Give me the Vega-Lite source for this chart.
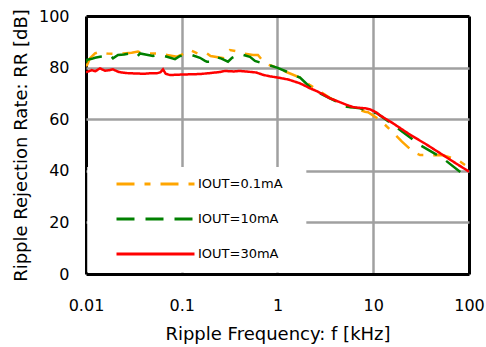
{
  "$schema": "https://vega.github.io/schema/vega-lite/v6.json",
  "width": 383,
  "height": 258,
  "autosize": "none",
  "padding": {"left": 86, "top": 16, "right": 17, "bottom": 73},
  "background": "white",
  "config": {
    "view": {"stroke": null},
    "font": "DejaVu Sans",
    "axis": {
      "domain": false,
      "ticks": false,
      "labelFont": "DejaVu Sans",
      "labelFontSize": 16,
      "labelColor": "black",
      "titleFont": "DejaVu Sans",
      "titleFontSize": 18,
      "titleFontWeight": "normal",
      "titleColor": "black",
      "labelOverlap": false,
      "grid": true
    },
    "legend": {
      "orient": "none",
      "legendX": 29,
      "legendY": 160,
      "symbolType": "stroke",
      "symbolSize": 6084,
      "symbolStrokeWidth": 3,
      "clipHeight": 16,
      "labelFont": "DejaVu Sans",
      "labelFontSize": 13,
      "labelColor": "black",
      "labelOffset": 2,
      "rowPadding": 19,
      "padding": 0
    }
  },
  "datasets": {
    "curves": [
      {"f": 0.01, "rr": 80.5, "s": "IOUT=0.1mA"},
      {"f": 0.01024, "rr": 81.0, "s": "IOUT=0.1mA"},
      {"f": 0.01101, "rr": 83.6, "s": "IOUT=0.1mA"},
      {"f": 0.01242, "rr": 85.5, "s": "IOUT=0.1mA"},
      {"f": 0.014, "rr": 86.2, "s": "IOUT=0.1mA"},
      {"f": 0.01657, "rr": 85.5, "s": "IOUT=0.1mA"},
      {"f": 0.02, "rr": 85.3, "s": "IOUT=0.1mA"},
      {"f": 0.02435, "rr": 85.5, "s": "IOUT=0.1mA"},
      {"f": 0.03, "rr": 85.8, "s": "IOUT=0.1mA"},
      {"f": 0.0349, "rr": 86.2, "s": "IOUT=0.1mA"},
      {"f": 0.03937, "rr": 85.5, "s": "IOUT=0.1mA"},
      {"f": 0.05513, "rr": 85.5, "s": "IOUT=0.1mA"},
      {"f": 0.07015, "rr": 84.9, "s": "IOUT=0.1mA"},
      {"f": 0.0891, "rr": 84.2, "s": "IOUT=0.1mA"},
      {"f": 0.1, "rr": 85.0, "s": "IOUT=0.1mA"},
      {"f": 0.122, "rr": 86.8, "s": "IOUT=0.1mA"},
      {"f": 0.155, "rr": 85.1, "s": "IOUT=0.1mA"},
      {"f": 0.1835, "rr": 85.5, "s": "IOUT=0.1mA"},
      {"f": 0.2, "rr": 84.5, "s": "IOUT=0.1mA"},
      {"f": 0.283, "rr": 83.6, "s": "IOUT=0.1mA"},
      {"f": 0.319, "rr": 86.8, "s": "IOUT=0.1mA"},
      {"f": 0.386, "rr": 86.2, "s": "IOUT=0.1mA"},
      {"f": 0.436, "rr": 85.5, "s": "IOUT=0.1mA"},
      {"f": 0.555, "rr": 84.9, "s": "IOUT=0.1mA"},
      {"f": 0.625, "rr": 84.9, "s": "IOUT=0.1mA"},
      {"f": 0.706, "rr": 82.5, "s": "IOUT=0.1mA"},
      {"f": 0.777, "rr": 81.3, "s": "IOUT=0.1mA"},
      {"f": 0.988, "rr": 80.0, "s": "IOUT=0.1mA"},
      {"f": 1.256, "rr": 78.2, "s": "IOUT=0.1mA"},
      {"f": 1.72, "rr": 76.1, "s": "IOUT=0.1mA"},
      {"f": 2.18, "rr": 73.2, "s": "IOUT=0.1mA"},
      {"f": 3.53, "rr": 68.3, "s": "IOUT=0.1mA"},
      {"f": 5.32, "rr": 65.0, "s": "IOUT=0.1mA"},
      {"f": 6.76, "rr": 64.0, "s": "IOUT=0.1mA"},
      {"f": 8.2, "rr": 62.9, "s": "IOUT=0.1mA"},
      {"f": 8.81, "rr": 62.7, "s": "IOUT=0.1mA"},
      {"f": 11.75, "rr": 59.7, "s": "IOUT=0.1mA"},
      {"f": 15.7, "rr": 55.2, "s": "IOUT=0.1mA"},
      {"f": 19.95, "rr": 51.3, "s": "IOUT=0.1mA"},
      {"f": 26.0, "rr": 47.4, "s": "IOUT=0.1mA"},
      {"f": 30.8, "rr": 46.1, "s": "IOUT=0.1mA"},
      {"f": 39.2, "rr": 46.1, "s": "IOUT=0.1mA"},
      {"f": 53.5, "rr": 46.0, "s": "IOUT=0.1mA"},
      {"f": 75.0, "rr": 44.4, "s": "IOUT=0.1mA"},
      {"f": 100, "rr": 41.2, "s": "IOUT=0.1mA"},

      {"f": 0.01, "rr": 82.0, "s": "IOUT=10mA"},
      {"f": 0.01024, "rr": 83.0, "s": "IOUT=10mA"},
      {"f": 0.0115, "rr": 83.4, "s": "IOUT=10mA"},
      {"f": 0.01242, "rr": 83.8, "s": "IOUT=10mA"},
      {"f": 0.014, "rr": 84.2, "s": "IOUT=10mA"},
      {"f": 0.0165, "rr": 84.5, "s": "IOUT=10mA"},
      {"f": 0.01781, "rr": 84.9, "s": "IOUT=10mA"},
      {"f": 0.01914, "rr": 83.6, "s": "IOUT=10mA"},
      {"f": 0.02159, "rr": 84.9, "s": "IOUT=10mA"},
      {"f": 0.025, "rr": 85.1, "s": "IOUT=10mA"},
      {"f": 0.0288, "rr": 85.5, "s": "IOUT=10mA"},
      {"f": 0.03408, "rr": 84.2, "s": "IOUT=10mA"},
      {"f": 0.03664, "rr": 85.5, "s": "IOUT=10mA"},
      {"f": 0.043, "rr": 85.0, "s": "IOUT=10mA"},
      {"f": 0.05009, "rr": 84.5, "s": "IOUT=10mA"},
      {"f": 0.05649, "rr": 85.1, "s": "IOUT=10mA"},
      {"f": 0.07015, "rr": 84.2, "s": "IOUT=10mA"},
      {"f": 0.08504, "rr": 83.3, "s": "IOUT=10mA"},
      {"f": 0.0959, "rr": 84.5, "s": "IOUT=10mA"},
      {"f": 0.11, "rr": 84.8, "s": "IOUT=10mA"},
      {"f": 0.122, "rr": 85.1, "s": "IOUT=10mA"},
      {"f": 0.155, "rr": 83.8, "s": "IOUT=10mA"},
      {"f": 0.175, "rr": 82.6, "s": "IOUT=10mA"},
      {"f": 0.1835, "rr": 82.3, "s": "IOUT=10mA"},
      {"f": 0.197, "rr": 82.3, "s": "IOUT=10mA"},
      {"f": 0.2225, "rr": 84.2, "s": "IOUT=10mA"},
      {"f": 0.26, "rr": 83.5, "s": "IOUT=10mA"},
      {"f": 0.304, "rr": 82.3, "s": "IOUT=10mA"},
      {"f": 0.335, "rr": 83.8, "s": "IOUT=10mA"},
      {"f": 0.406, "rr": 85.3, "s": "IOUT=10mA"},
      {"f": 0.516, "rr": 84.2, "s": "IOUT=10mA"},
      {"f": 0.582, "rr": 82.6, "s": "IOUT=10mA"},
      {"f": 0.706, "rr": 81.6, "s": "IOUT=10mA"},
      {"f": 0.988, "rr": 80.0, "s": "IOUT=10mA"},
      {"f": 1.256, "rr": 78.4, "s": "IOUT=10mA"},
      {"f": 1.72, "rr": 76.1, "s": "IOUT=10mA"},
      {"f": 2.35, "rr": 71.3, "s": "IOUT=10mA"},
      {"f": 3.53, "rr": 68.1, "s": "IOUT=10mA"},
      {"f": 5.32, "rr": 64.8, "s": "IOUT=10mA"},
      {"f": 7.27, "rr": 64.2, "s": "IOUT=10mA"},
      {"f": 9.25, "rr": 62.9, "s": "IOUT=10mA"},
      {"f": 10.9, "rr": 62.3, "s": "IOUT=10mA"},
      {"f": 16.1, "rr": 57.8, "s": "IOUT=10mA"},
      {"f": 30.8, "rr": 50.0, "s": "IOUT=10mA"},
      {"f": 53.5, "rr": 44.8, "s": "IOUT=10mA"},
      {"f": 95.3, "rr": 37.5, "s": "IOUT=10mA"},
      {"f": 100, "rr": 37.2, "s": "IOUT=10mA"},

      {"f": 0.01, "rr": 78.2, "s": "IOUT=30mA"},
      {"f": 0.0115, "rr": 79.0, "s": "IOUT=30mA"},
      {"f": 0.0125, "rr": 78.6, "s": "IOUT=30mA"},
      {"f": 0.014, "rr": 79.7, "s": "IOUT=30mA"},
      {"f": 0.0158, "rr": 78.8, "s": "IOUT=30mA"},
      {"f": 0.0175, "rr": 79.0, "s": "IOUT=30mA"},
      {"f": 0.0191, "rr": 79.3, "s": "IOUT=30mA"},
      {"f": 0.022, "rr": 78.3, "s": "IOUT=30mA"},
      {"f": 0.026, "rr": 77.9, "s": "IOUT=30mA"},
      {"f": 0.0288, "rr": 77.8, "s": "IOUT=30mA"},
      {"f": 0.035, "rr": 77.7, "s": "IOUT=30mA"},
      {"f": 0.04, "rr": 77.6, "s": "IOUT=30mA"},
      {"f": 0.0466, "rr": 77.8, "s": "IOUT=30mA"},
      {"f": 0.055, "rr": 77.8, "s": "IOUT=30mA"},
      {"f": 0.06, "rr": 78.2, "s": "IOUT=30mA"},
      {"f": 0.0637, "rr": 79.3, "s": "IOUT=30mA"},
      {"f": 0.068, "rr": 77.6, "s": "IOUT=30mA"},
      {"f": 0.0754, "rr": 77.1, "s": "IOUT=30mA"},
      {"f": 0.085, "rr": 77.2, "s": "IOUT=30mA"},
      {"f": 0.1, "rr": 77.3, "s": "IOUT=30mA"},
      {"f": 0.122, "rr": 77.4, "s": "IOUT=30mA"},
      {"f": 0.155, "rr": 77.5, "s": "IOUT=30mA"},
      {"f": 0.2, "rr": 77.9, "s": "IOUT=30mA"},
      {"f": 0.25, "rr": 78.3, "s": "IOUT=30mA"},
      {"f": 0.283, "rr": 78.7, "s": "IOUT=30mA"},
      {"f": 0.35, "rr": 78.5, "s": "IOUT=30mA"},
      {"f": 0.406, "rr": 78.7, "s": "IOUT=30mA"},
      {"f": 0.5, "rr": 78.4, "s": "IOUT=30mA"},
      {"f": 0.6, "rr": 78.1, "s": "IOUT=30mA"},
      {"f": 0.706, "rr": 77.2, "s": "IOUT=30mA"},
      {"f": 0.835, "rr": 76.6, "s": "IOUT=30mA"},
      {"f": 0.988, "rr": 76.2, "s": "IOUT=30mA"},
      {"f": 1.13, "rr": 75.8, "s": "IOUT=30mA"},
      {"f": 1.29, "rr": 75.4, "s": "IOUT=30mA"},
      {"f": 1.45, "rr": 74.8, "s": "IOUT=30mA"},
      {"f": 1.72, "rr": 73.9, "s": "IOUT=30mA"},
      {"f": 2.18, "rr": 72.0, "s": "IOUT=30mA"},
      {"f": 2.6, "rr": 70.8, "s": "IOUT=30mA"},
      {"f": 3.0, "rr": 69.6, "s": "IOUT=30mA"},
      {"f": 3.53, "rr": 68.1, "s": "IOUT=30mA"},
      {"f": 4.08, "rr": 67.2, "s": "IOUT=30mA"},
      {"f": 5.32, "rr": 65.5, "s": "IOUT=30mA"},
      {"f": 6.15, "rr": 64.7, "s": "IOUT=30mA"},
      {"f": 6.76, "rr": 64.5, "s": "IOUT=30mA"},
      {"f": 8.4, "rr": 64.2, "s": "IOUT=30mA"},
      {"f": 9.25, "rr": 63.8, "s": "IOUT=30mA"},
      {"f": 10.7, "rr": 62.7, "s": "IOUT=30mA"},
      {"f": 11.75, "rr": 61.5, "s": "IOUT=30mA"},
      {"f": 16.1, "rr": 58.4, "s": "IOUT=30mA"},
      {"f": 24.2, "rr": 54.0, "s": "IOUT=30mA"},
      {"f": 35.6, "rr": 50.3, "s": "IOUT=30mA"},
      {"f": 53.5, "rr": 46.1, "s": "IOUT=30mA"},
      {"f": 75.0, "rr": 42.6, "s": "IOUT=30mA"},
      {"f": 100, "rr": 39.7, "s": "IOUT=30mA"}
    ]
  },
  "layer": [
    {
      "data": {"values": [{}]},
      "mark": {"type": "rect", "fill": "white"},
      "encoding": {
        "x": {"datum": 0.0103, "type": "quantitative", "title": "Ripple Frequency: f [kHz]"},
        "x2": {"datum": 2},
        "y": {"datum": 0.6, "type": "quantitative", "title": "Ripple Rejection Rate: RR [dB]"},
        "y2": {"datum": 41.5}
      }
    },
    {
      "data": {"name": "curves"},
      "mark": {"type": "line", "strokeWidth": 2.5, "clip": true},
      "encoding": {
        "x": {
          "field": "f",
          "type": "quantitative",
          "title": "Ripple Frequency: f [kHz]",
          "scale": {"type": "log", "domain": [0.01, 100]},
          "axis": {
            "values": [0.01, 0.1, 1, 10, 100],
            "format": "~g",
            "labelFlush": false,
            "labelPadding": 23,
            "titlePadding": 12,
            "gridColor": {"condition": {"test": "datum.value <= 0.0100001 || datum.value >= 99.999", "value": "black"}, "value": "#a0a0a0"},
            "gridWidth": {"condition": {"test": "datum.value <= 0.0100001 || datum.value >= 99.999", "value": 3}, "value": 2.5}
          }
        },
        "y": {
          "field": "rr",
          "type": "quantitative",
          "title": "Ripple Rejection Rate: RR [dB]",
          "scale": {"domain": [0, 100], "nice": false, "zero": true},
          "axis": {
            "values": [0, 20, 40, 60, 80, 100],
            "labelPadding": 17,
            "titlePadding": 8,
            "gridColor": {"condition": {"test": "datum.value <= 0 || datum.value >= 100", "value": "black"}, "value": "#a0a0a0"},
            "gridWidth": {"condition": {"test": "datum.value <= 0 || datum.value >= 100", "value": 3}, "value": 2.5}
          }
        },
        "color": {
          "field": "s",
          "type": "nominal",
          "scale": {"domain": ["IOUT=0.1mA", "IOUT=10mA", "IOUT=30mA"], "range": ["#FFA500", "#008000", "#FF0000"]},
          "legend": {"title": null}
        },
        "strokeDash": {
          "field": "s",
          "type": "nominal",
          "scale": {"domain": ["IOUT=0.1mA", "IOUT=10mA", "IOUT=30mA"], "range": [[18, 10, 6, 10], [18, 11], [1, 0]]},
          "legend": {"title": null}
        }
      }
    }
  ]
}
